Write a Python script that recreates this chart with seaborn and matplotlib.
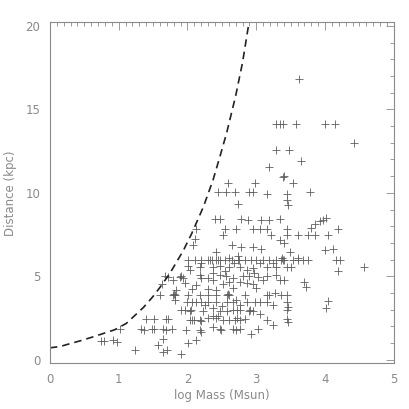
import numpy as np
import pandas as pd
import matplotlib
matplotlib.use('Agg')
import matplotlib.pyplot as plt
from matplotlib.ticker import MultipleLocator
import seaborn as sns

# cluster points: log mass (Msun) and distance (kpc)
log_mass = [
    3.62, 3.29, 3.34, 3.39, 3.58, 4.00, 4.14, 4.42, 3.28, 3.48, 3.65, 3.18, 3.39, 3.40, 3.54,
    2.59, 2.98, 2.44, 2.56, 2.69, 2.90, 2.95, 3.16, 3.44, 3.78, 3.45, 3.46, 2.73,
    3.80, 3.85, 3.92, 3.97, 4.02,
    2.40, 2.47, 2.78, 2.88, 3.07, 3.19, 3.34, 3.44, 2.13, 2.54, 2.71, 2.95, 3.05, 3.15, 4.19,
    3.85, 3.75, 4.04, 3.60, 3.45, 3.22, 2.52, 2.11, 2.08, 2.64, 2.78, 2.95, 3.07, 3.34, 4.00,
    4.11, 2.42, 3.49, 3.40,
    2.01, 2.11, 2.20, 2.30, 2.33, 2.35, 2.42, 2.45, 2.47, 2.54, 2.64, 2.73, 2.75, 2.83, 2.93,
    3.00, 3.10, 3.19, 3.29, 3.36, 3.39, 3.41, 3.53, 3.61, 3.68, 3.75, 4.16, 4.22, 2.60, 2.74, 3.37,
    2.01, 2.03, 2.18, 2.37, 2.47, 2.61, 2.76, 2.95, 3.15, 3.29, 3.44, 3.51, 4.56, 4.19, 2.87,
    3.05, 3.24, 2.20, 2.55, 2.68, 3.60,
    1.67, 1.72, 1.89, 1.91, 1.93, 2.18, 2.30, 2.47, 2.66, 2.81, 2.90, 3.03, 3.15, 3.29, 2.20,
    2.56, 2.37, 2.97,
    1.63, 1.79, 2.37, 2.52, 2.61, 2.76, 2.95, 3.10, 3.34, 3.41, 3.70, 3.72, 1.96, 2.13, 2.87,
    2.06, 2.30, 2.42, 2.66, 1.84, 3.00,
    1.60, 1.79, 1.82, 1.81, 2.01, 2.18, 2.30, 2.42, 2.57, 2.61, 2.71, 2.83, 3.15, 3.19, 3.27,
    3.36, 3.44, 2.59,
    1.99, 2.06, 2.13, 2.20, 2.30, 2.42, 2.57, 2.66, 2.86, 2.98, 3.05, 3.15, 3.24, 3.45, 3.46,
    4.04, 1.82, 2.50, 2.25, 2.77,
    1.91, 1.96, 2.03, 2.23, 2.37, 2.47, 2.57, 2.66, 2.76, 2.90, 2.95, 3.05, 3.44, 4.02, 2.05,
    2.72, 2.91,
    1.40, 1.52, 1.69, 1.72, 2.03, 2.06, 2.18, 2.20, 2.37, 2.42, 2.52, 2.61, 2.69, 2.76, 2.83,
    3.15, 3.44, 3.46, 2.45, 2.30, 2.10, 2.72,
    1.02, 1.33, 1.37, 1.48, 1.51, 1.65, 1.69, 1.77, 1.98, 2.18, 2.20, 2.37, 2.47, 2.49, 2.66,
    2.71, 2.76, 3.03, 3.25, 2.92,
    0.75, 0.78, 0.92, 0.98, 1.65, 2.13, 1.23, 1.57, 1.65, 1.70, 1.91, 2.01,
]
distance = [
    16.84, 14.1, 14.1, 14.1, 14.1, 14.1, 14.1, 13.0, 12.56, 12.56, 11.9, 11.56, 10.96, 11.0, 10.56,
    10.56, 10.56, 10.06, 10.06, 10.06, 10.06, 10.06, 9.96, 9.96, 10.06, 9.56, 9.3, 9.36,
    7.9, 8.16, 8.3, 8.4, 8.5,
    8.46, 8.46, 8.46, 8.36, 8.36, 8.36, 8.46, 7.86, 7.86, 7.86, 7.86, 7.86, 7.86, 7.86, 7.86,
    7.46, 7.46, 7.46, 7.46, 7.46, 7.46, 7.46, 7.26, 6.86, 6.86, 6.76, 6.76, 6.66, 7.16, 6.56,
    6.66, 6.46, 6.46, 7.0,
    6.0, 6.0, 6.0, 6.0, 6.0, 6.0, 6.0, 6.0, 6.0, 6.0, 6.0, 6.0, 6.0, 6.0, 6.0,
    6.0, 6.0, 6.0, 6.0, 6.0, 6.0, 6.0, 6.0, 6.0, 6.0, 6.0, 5.96, 5.96, 6.1, 6.2, 6.1,
    5.6, 5.4, 5.56, 5.56, 5.6, 5.56, 5.56, 5.5, 5.56, 5.56, 5.56, 5.56, 5.56, 5.3, 5.4,
    5.8, 5.8, 5.8, 5.3, 5.8, 6.1,
    5.0, 4.96, 4.96, 5.0, 4.9, 5.1, 4.9, 5.1, 4.9, 5.0, 5.0, 4.96, 5.0, 5.1, 4.9,
    5.0, 5.2, 5.2,
    4.56, 4.76, 4.76, 4.56, 4.66, 4.66, 4.56, 4.76, 4.76, 4.76, 4.66, 4.36, 4.6, 4.5, 4.6,
    4.26, 4.26, 4.2, 4.3, 4.2, 4.3,
    3.9, 3.9, 3.9, 3.95, 3.9, 3.9, 3.9, 3.9, 3.9, 3.9, 3.6, 3.9, 3.9, 3.9, 4.0,
    3.9, 3.9, 3.95,
    3.46, 3.46, 3.46, 3.46, 3.46, 3.46, 3.46, 3.46, 3.46, 3.46, 3.46, 3.46, 3.3, 3.46, 3.16,
    3.5, 3.6, 3.2, 3.3, 3.3,
    2.96, 2.96, 2.9, 2.9, 3.1, 2.9, 2.9, 2.96, 2.96, 2.9, 2.9, 2.76, 2.96, 3.1, 3.0,
    3.0, 3.0,
    2.46, 2.46, 2.46, 2.46, 2.36, 2.36, 2.36, 2.3, 2.6, 2.5, 2.36, 2.36, 2.36, 2.36, 2.46,
    2.36, 2.46, 2.26, 2.6, 2.5, 2.4, 2.5,
    1.86, 1.86, 1.76, 1.86, 1.86, 1.86, 1.76, 1.86, 1.76, 1.76, 1.66, 1.96, 1.86, 1.76, 1.86,
    1.76, 1.86, 1.86, 2.06, 1.56,
    1.1, 1.1, 1.16, 1.06, 1.26, 1.2, 0.56, 0.86, 0.46, 0.56, 0.36, 1.0,
]

# dashed detection limit curve
limit_mass = [0.0, 0.15, 0.3, 0.45, 0.63, 0.94, 1.11, 1.22, 1.36, 1.5, 1.6, 1.74, 1.94, 2.06,
              2.23, 2.37, 2.47, 2.57, 2.7, 2.8, 2.89]
limit_dist = [0.72, 0.8, 0.98, 1.15, 1.38, 1.8, 2.18, 2.6, 3.14, 3.8, 4.34, 5.15, 6.55, 7.55,
              9.15, 10.75, 12.15, 13.6, 15.8, 17.8, 20.1]

pts = pd.DataFrame({'mass': log_mass, 'dist': distance})
lim = pd.DataFrame({'mass': limit_mass, 'dist': limit_dist})

sns.set_style('white')
plt.rcParams['font.family'] = ['DejaVu Sans']
grey = '#8a8a8a'

fig = plt.figure(figsize=(4.09, 4.09), dpi=100)
ax = fig.add_axes([0.122, 0.112, 0.841, 0.833])

sns.scatterplot(data=pts, x='mass', y='dist', marker='+', s=38, color='#5e5e5e',
                linewidth=0.6, ax=ax, legend=False)
sns.lineplot(data=lim, x='mass', y='dist', sort=False, color='#222222',
             linewidth=1.2, dashes=False, ax=ax)
ax.lines[-1].set_dashes([4.5, 3])

ax.set_xlim(0, 5)
ax.set_ylim(-0.2, 20.2)
ax.xaxis.set_major_locator(MultipleLocator(1))
ax.xaxis.set_minor_locator(MultipleLocator(0.1))
ax.yaxis.set_major_locator(MultipleLocator(5))
ax.yaxis.set_minor_locator(MultipleLocator(1))
ax.tick_params(which='both', direction='in', top=True, right=True, color=grey,
               labelcolor=grey, labelsize=8.5, width=0.6)
ax.tick_params(which='major', length=6, pad=7)
ax.tick_params(which='minor', length=3)
for s in ax.spines.values():
    s.set_color(grey)
    s.set_linewidth(0.8)

ax.set_xlabel('log Mass (Msun)', color=grey, fontsize=8.5, labelpad=2)
ax.set_ylabel('Distance (kpc)', color=grey, fontsize=8.5, labelpad=6)

fig.savefig('out.png', dpi=100)
